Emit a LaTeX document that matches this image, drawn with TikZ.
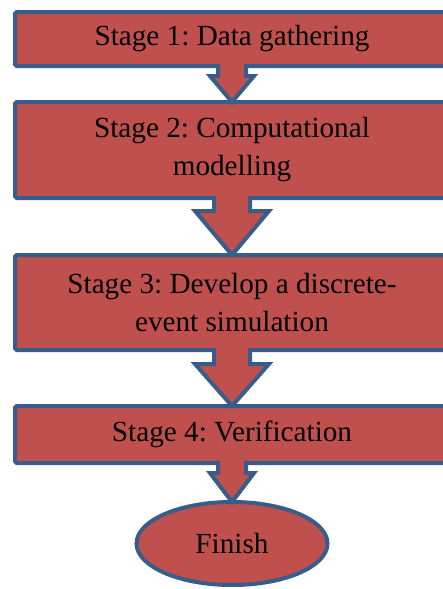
\documentclass[tikz,border=0pt]{standalone}
\usepackage{fontspec}
\setmainfont{Liberation Serif}
\usetikzlibrary{calc,shapes.geometric}
\definecolor{stagered}{HTML}{C0504D}
\definecolor{stageblue}{HTML}{385D8A}
\frenchspacing
\tikzset{
  stagebox/.style={draw=stageblue,fill=stagered,line width=2pt,rounded corners=0.8pt,
    minimum width=217pt,inner sep=0pt,outer sep=0pt,align=center,
    font=\fontsize{14.6}{19}\selectfont},
  finishbox/.style={ellipse,draw=stageblue,fill=stagered,line width=2pt,
    minimum width=95.5pt,minimum height=41.5pt,inner sep=0pt,outer sep=0pt,
    font=\fontsize{14.6}{19}\selectfont},
  arrowfill/.style={fill=stagered},
  arrowline/.style={draw=stageblue,line width=2pt}
}
\begin{document}
\begin{tikzpicture}[x=0.5pt,y=0.5pt]
\useasboundingbox (0,0) rectangle (443,-589);
\clip (0,0) rectangle (443,-589);
% stages
\node [stagebox,minimum height=27pt] (stage1) at (232,-39) {Stage 1: Data gathering};
\node [stagebox,minimum height=48pt] (stage2) at (232,-150) {Stage 2: Computational\\modelling};
\node [stagebox,minimum height=47.5pt] (stage3) at (232,-302.5) {Stage 3: Develop a discrete-\\event simulation};
\node [stagebox,minimum height=28.5pt] (stage4) at (232,-434.5) {Stage 4: Verification};
\node [finishbox] (finish) at (232,-543.5) {Finish};
% block arrows: from/to/stem half width/head half width/stem length
\foreach \a/\b/\s/\h/\k in {stage1/stage2/14/22/10,stage2/stage3/18/37/13,
                            stage3/stage4/18/37/14,stage4/finish/14/22/10}{
  \fill [arrowfill] ($(\a.south)+(-\s,3)$) -- ($(\a.south)+(-\s,-\k)$)
    -- ($(\a.south)+(-\h,-\k)$) -- (\b.north) -- ($(\a.south)+(\h,-\k)$)
    -- ($(\a.south)+(\s,-\k)$) -- ($(\a.south)+(\s,3)$) -- cycle;
  \draw [arrowline] ($(\a.south)+(-\s,2)$) -- ($(\a.south)+(-\s,-\k)$)
    -- ($(\a.south)+(-\h,-\k)$) -- (\b.north) -- ($(\a.south)+(\h,-\k)$)
    -- ($(\a.south)+(\s,-\k)$) -- ($(\a.south)+(\s,2)$);
}
\end{tikzpicture}
\end{document}
